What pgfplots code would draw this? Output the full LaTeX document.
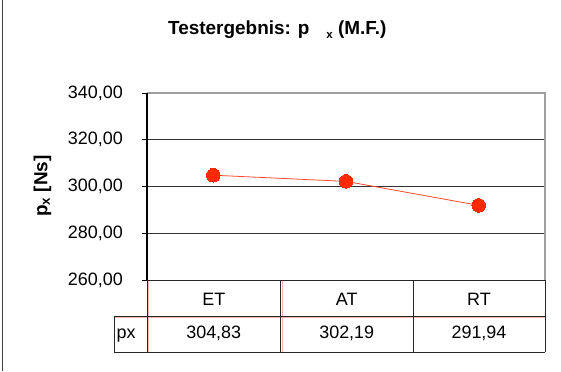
\documentclass[border=0pt]{standalone}
\usepackage{pgfplots}
\pgfplotsset{compat=1.18}
\usepackage{fontspec}
\setmainfont{Liberation Sans}
\definecolor{serline}{HTML}{FF4A2A}
\definecolor{sermark}{HTML}{FF2A00}
\definecolor{keyred}{HTML}{F8B8B0}
\begin{document}
\begin{tikzpicture}[x=1bp,y=1bp]
\useasboundingbox (0,0) rectangle (561,371);
\fill[white] (0,0) rectangle (561,371);
\draw[black!75, line width=1.5bp] (2.5,0) -- (2.5,371);
% title
\node[anchor=base west, inner sep=0pt] at (168,337)
  {\fontsize{19}{22}\selectfont\bfseries Testergebnis: p\hspace{17bp}\raisebox{-4bp}{\fontsize{11.5}{13}\selectfont x} (M.F.)};
% y label
\node[rotate=90, inner sep=0pt] at (42.5,185)
  {\fontsize{19}{22}\selectfont\bfseries p\textsubscript{x} [Ns]};
\begin{axis}[
  at={(147bp,91bp)}, anchor=south west,
  width=398bp, height=187bp, scale only axis,
  xmin=0.5, xmax=3.5, ymin=260, ymax=340,
  ytick={260,280,300,320,340}, xtick=\empty,
  axis line style={draw=none},
  ytick pos=left, tick align=outside, major tick length=5bp,
  ytick style={black, line width=0.8bp},
  yticklabel style={anchor=east, inner sep=0pt, xshift=-19bp,
    font=\fontsize{18}{20}\selectfont,
    /pgf/number format/.cd, fixed, fixed zerofill, precision=2, use comma, assume math mode=true},
  clip=false,
]
\draw[black!80, line width=0.8bp] (axis cs:0.5,280) -- (axis cs:3.5,280);
\draw[black!80, line width=0.8bp] (axis cs:0.5,300) -- (axis cs:3.5,300);
\draw[black!80, line width=0.8bp] (axis cs:0.5,320) -- (axis cs:3.5,320);
\draw[gray!75, line width=1.2bp] (axis cs:0.5,340) -- (axis cs:3.5,340) -- (axis cs:3.5,260);
\draw[black, line width=1.2bp] (axis cs:0.5,260) -- (axis cs:0.5,340);
\addplot[serline, line width=0.8bp, mark=*, mark size=6.8bp,
  mark options={fill=sermark, draw=sermark, line width=0pt}]
  coordinates {(1,304.83) (2,302.19) (3,291.94)};
\end{axis}
% data table
\draw[keyred, line width=0.8bp] (148.5,90) -- (148.5,19);
\draw[keyred, line width=0.8bp] (282,90) -- (282,19);
\draw[keyred, line width=0.8bp] (114,53.5) -- (545,53.5);
\draw[black!85, line width=1bp] (147,91) -- (545,91);
\draw[black!85, line width=1bp] (114,55) -- (545,55);
\draw[black!85, line width=1bp] (114,19) -- (545,19);
\draw[black!85, line width=1bp] (114,55) -- (114,19);
\draw[black!85, line width=1bp] (147,91) -- (147,19);
\draw[black!85, line width=1bp] (280.5,91) -- (280.5,19);
\draw[black!85, line width=1bp] (413,91) -- (413,19);
\draw[black!85, line width=1bp] (545,91) -- (545,19);
\begin{scope}[every node/.style={anchor=base, inner sep=0pt, font=\fontsize{18}{20}\selectfont}]
\node at (213.75,66) {ET};
\node at (346.75,66) {AT};
\node at (479,66) {RT};
\node at (213.75,33) {304,83};
\node at (346.75,33) {302,19};
\node at (479,33) {291,94};
\node[anchor=base west] at (116.5,33) {px};
\end{scope}
\end{tikzpicture}
\end{document}
